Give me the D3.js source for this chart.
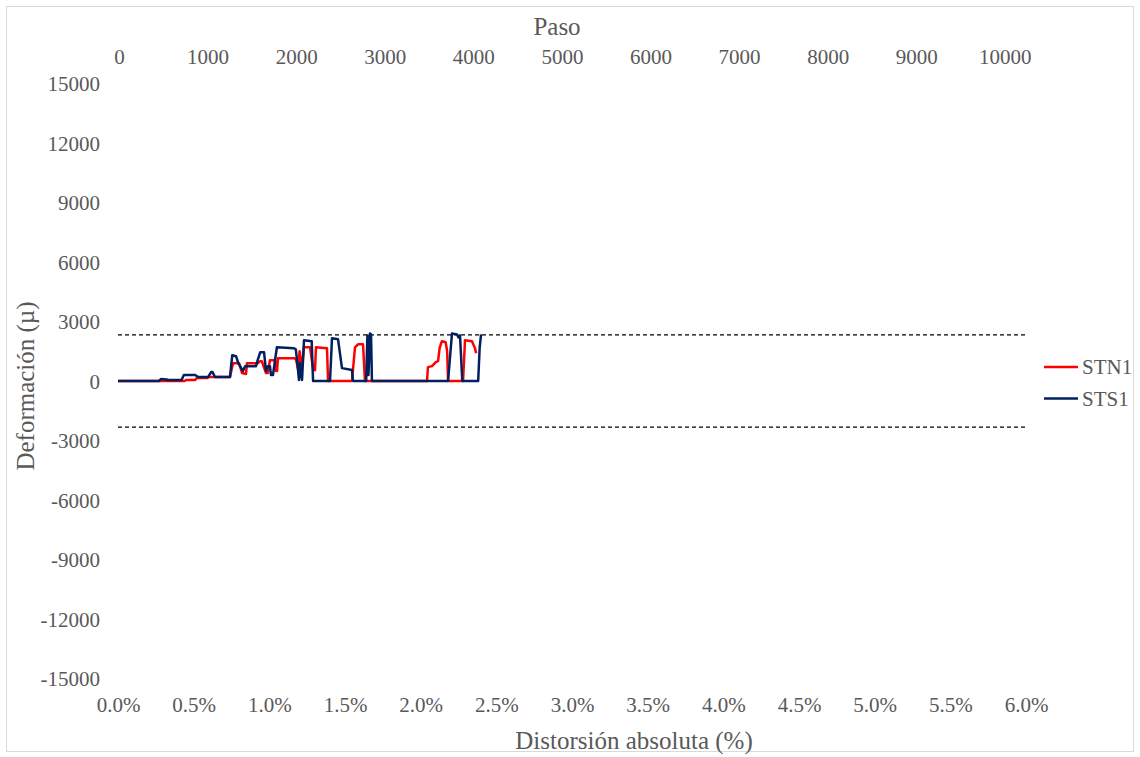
<!DOCTYPE html>
<html>
<head>
<meta charset="utf-8">
<script src="https://cdn.jsdelivr.net/npm/d3@7"></script>
<style>
  html, body { margin: 0; padding: 0; background: #fff; }
  svg { display: block; }
  text { font-family: "Liberation Serif", "Times New Roman", serif; fill: #595959; }
</style>
</head>
<body>
<svg id="chart" width="1140" height="757"></svg>
<script>
// Strain readings against absolute drift (%), one [drift, strain] pair per point
const stn1 = [
  [0, 0], [0.44, 0], [0.45, 50], [0.51, 50], [0.52, 150], [0.59, 150], [0.60, 200], [0.74, 200],
  [0.76, 900], [0.80, 900], [0.82, 400], [0.846, 350], [0.852, 900], [0.925, 900], [0.94, 1000],
  [0.95, 1000], [0.978, 400], [0.99, 400], [1.004, 1050], [1.037, 1050], [1.044, 500], [1.051, 500],
  [1.057, 1150], [1.163, 1150], [1.176, 1100], [1.19, 600], [1.20, 1500], [1.216, 700], [1.229, 1700],
  [1.269, 1700], [1.289, 600], [1.302, 550], [1.308, 1700], [1.381, 1650], [1.388, 0], [1.546, 0],
  [1.566, 1700], [1.586, 1850], [1.619, 1850], [1.632, 0], [2.042, 0], [2.048, 700], [2.075, 750],
  [2.10, 950], [2.115, 1000], [2.125, 1650], [2.135, 1900], [2.14, 2000], [2.165, 1950], [2.175, 1500],
  [2.181, 0], [2.28, 0], [2.293, 2050], [2.339, 2000], [2.359, 1650], [2.366, 1400]
];
const sts1 = [
  [0, 0], [0.27, 0], [0.285, 100], [0.32, 80], [0.33, 50], [0.42, 50], [0.435, 300], [0.51, 300],
  [0.53, 200], [0.595, 200], [0.615, 450], [0.625, 450], [0.64, 200], [0.74, 200], [0.755, 1300],
  [0.78, 1250], [0.795, 900], [0.826, 500], [0.84, 750], [0.912, 750], [0.925, 1100], [0.94, 1450],
  [0.965, 1450], [0.978, 500], [0.99, 750], [1.004, 750], [1.011, 300], [1.024, 300], [1.05, 1700],
  [1.163, 1650], [1.175, 1600], [1.183, 1050], [1.196, 50], [1.203, 900], [1.216, 50], [1.229, 2050],
  [1.28, 2000], [1.289, 0], [1.401, 0], [1.414, 2150], [1.454, 2100], [1.48, 650], [1.546, 550],
  [1.553, 0], [1.64, 0], [1.648, 2300], [1.655, 300], [1.665, 2400], [1.672, 2350], [1.678, 0],
  [2.181, 0], [2.207, 2400], [2.24, 2350], [2.25, 2200], [2.26, 2300], [2.275, 0], [2.38, 0],
  [2.39, 1700], [2.399, 2350]
];
const seriesNames = ["STN1", "STS1"];
const seriesColors = ["#ff0000", "#002060"];
const yieldStrain = 2330;

const driftTicks = [0, 0.5, 1, 1.5, 2, 2.5, 3, 3.5, 4, 4.5, 5, 5.5, 6];
const stepTicks = [0, 1000, 2000, 3000, 4000, 5000, 6000, 7000, 8000, 9000, 10000];
const strainTicks = [-15000, -12000, -9000, -6000, -3000, 0, 3000, 6000, 9000, 12000, 15000];

const svg = d3.select("#chart");

// chart frame
svg.append("rect")
  .attr("x", 6.5).attr("y", 6.5).attr("width", 1127).attr("height", 745)
  .attr("fill", "#fff").attr("stroke", "#d9d9d9").attr("stroke-width", 1);

const x = d3.scaleLinear().domain([0, 6]).range([118, 1026]);
const xTop = d3.scaleLinear().domain([0, 10250]).range([119, 1027]);
const y = d3.scaleLinear().domain([-15000, 15000]).range([678.5, 83.5]);

const fontSize = 21;
const titleSize = 25;

function styleTicks(g) {
  g.select(".domain").remove();
  g.attr("font-family", null).attr("font-size", null);
  g.selectAll("text").attr("font-size", fontSize).attr("dy", "0.35em").attr("fill", "#595959");
}

// bottom axis: drift
svg.append("g").attr("transform", "translate(0,705)")
  .call(d3.axisBottom(x).tickValues(driftTicks).tickSize(0).tickPadding(0)
    .tickFormat(d => d.toFixed(1) + "%"))
  .call(styleTicks);

// top axis: step
svg.append("g").attr("transform", "translate(0,57)")
  .call(d3.axisTop(xTop).tickValues(stepTicks).tickSize(0).tickPadding(0)
    .tickFormat(d => String(d)))
  .call(styleTicks);

// left axis: strain
svg.append("g").attr("transform", "translate(100,0)")
  .call(d3.axisLeft(y).tickValues(strainTicks).tickSize(0).tickPadding(0)
    .tickFormat(d => String(d)))
  .call(styleTicks);

// yield strain limits
svg.selectAll("line.limit")
  .data([yieldStrain, -yieldStrain])
  .enter().append("line")
  .attr("class", "limit")
  .attr("x1", x(0)).attr("x2", x(6))
  .attr("y1", d => y(d)).attr("y2", d => y(d))
  .attr("stroke", "#000").attr("stroke-width", 1.3).attr("stroke-dasharray", "4,3");

// data lines
const line = d3.line().x(d => x(d[0])).y(d => y(d[1]));
[stn1, sts1].forEach((s, i) => {
  svg.append("path")
    .datum(s)
    .attr("d", line)
    .attr("fill", "none")
    .attr("stroke", seriesColors[i])
    .attr("stroke-width", 2.5)
    .attr("stroke-linejoin", "round");
});

// legend
const legend = svg.append("g");
seriesNames.forEach((name, i) => {
  const ly = 367 + i * 31.5;
  legend.append("line")
    .attr("x1", 1044).attr("x2", 1078).attr("y1", ly).attr("y2", ly)
    .attr("stroke", seriesColors[i]).attr("stroke-width", 2.5);
  legend.append("text")
    .attr("x", 1082).attr("y", ly).attr("dy", "0.35em")
    .attr("font-size", fontSize).text(name);
});

// axis titles
svg.append("text").attr("x", 557).attr("y", 26).attr("dy", "0.35em")
  .attr("text-anchor", "middle").attr("font-size", titleSize).text("Paso");
svg.append("text").attr("x", 634).attr("y", 740).attr("dy", "0.35em")
  .attr("text-anchor", "middle").attr("font-size", titleSize).text("Distorsión absoluta (%)");
svg.append("text")
  .attr("transform", "translate(25,386) rotate(-90)")
  .attr("dy", "0.35em")
  .attr("text-anchor", "middle").attr("font-size", titleSize).text("Deformación (µ)");
</script>
</body>
</html>
